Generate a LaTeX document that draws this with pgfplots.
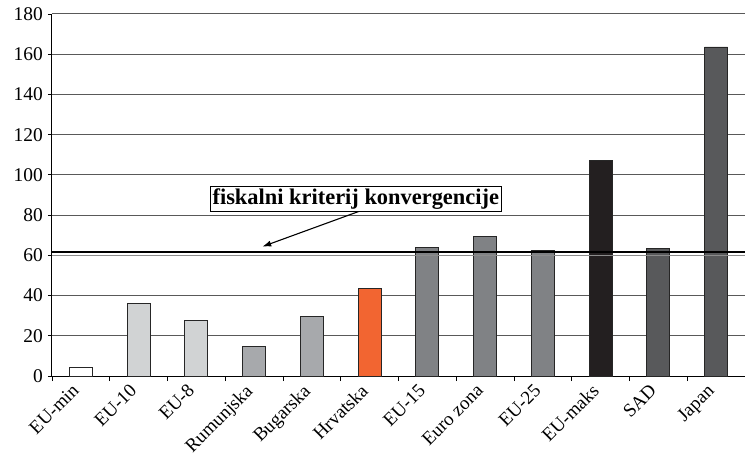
\documentclass[border=0pt]{standalone}
\usepackage{pgfplots}
\pgfplotsset{compat=1.18}
\usetikzlibrary{arrows.meta}
\usepackage{fontspec}
\setmainfont{Liberation Serif}
\definecolor{cwhite}{HTML}{FFFFFF}
\definecolor{clight}{HTML}{D1D3D4}
\definecolor{cmid}{HTML}{A7A9AC}
\definecolor{corange}{HTML}{F26531}
\definecolor{cgray}{HTML}{808285}
\definecolor{cblack}{HTML}{231F20}
\definecolor{cdark}{HTML}{58595B}
\begin{document}
\begin{tikzpicture}
\begin{axis}[
  name=ax,
  scale only axis,
  width=693bp, height=362bp,
  xmin=-0.5, xmax=11.5,
  ymin=0, ymax=180,
  ytick={0,20,...,180},
  ymajorgrids,
  grid style={black!65, line width=1bp},
  axis x line*=bottom,
  axis y line*=left,
  axis line style={black, line width=1bp},
  xtick={0,...,11},
  xticklabels={EU-min,EU-10,EU-8,Rumunjska,Bugarska,Hrvatska,EU-15,Euro zona,EU-25,EU-maks,SAD,Japan},
  major x tick style={draw=none},
  minor xtick={-0.5,0.5,...,11.5},
  minor tick length=5bp,
  major tick length=4bp,
  tick style={black, line width=0.9bp},
  tick align=outside,
  xticklabel style={rotate=45, anchor=north east, font=\fontsize{19}{21}\selectfont, inner sep=1pt, xshift=-8bp, yshift=6bp},
  yticklabel style={font=\fontsize{19.5}{21}\selectfont, inner sep=2pt, xshift=-3bp},
  /pgf/number format/assume math mode=true,
  ybar, bar width=0.4, bar shift=0pt,
  every axis plot/.append style={draw=black!85, line width=0.9bp},
  clip=false,
]
\addplot[fill=cwhite] coordinates {(0,4.1)};
\addplot[fill=clight] coordinates {(1,36.2) (2,27.4)};
\addplot[fill=cmid] coordinates {(3,14.6) (4,29.4)};
\addplot[fill=corange] coordinates {(5,43.7)};
\addplot[fill=cgray] coordinates {(6,64.1) (7,69.6) (8,62.2)};
\addplot[fill=cblack] coordinates {(9,107.4)};
\addplot[fill=cdark] coordinates {(10,63.2) (11,163.6)};
\draw[black!45, line width=1.1bp] (axis cs:-0.5,59.8) -- (axis cs:11.5,59.8);
\draw[black, line width=2bp] (axis cs:-0.5,61.7) -- (axis cs:11.5,61.7);
\draw[-{Latex[length=9bp,width=6bp]}, line width=1.1bp] (axis cs:4.83,82) -- (axis cs:3.14,64.3);
\node[draw=black, line width=1.1bp, fill=white, font=\fontsize{22.5}{24}\selectfont\bfseries, inner sep=2.5bp] at (axis cs:4.76,88) {fiskalni kriterij konvergencije};
\end{axis}
\pgfresetboundingbox
\path[use as bounding box] ([xshift=-52bp,yshift=-83bp]ax.south west) rectangle ([yshift=14bp]ax.north east);
\end{tikzpicture}
\end{document}
